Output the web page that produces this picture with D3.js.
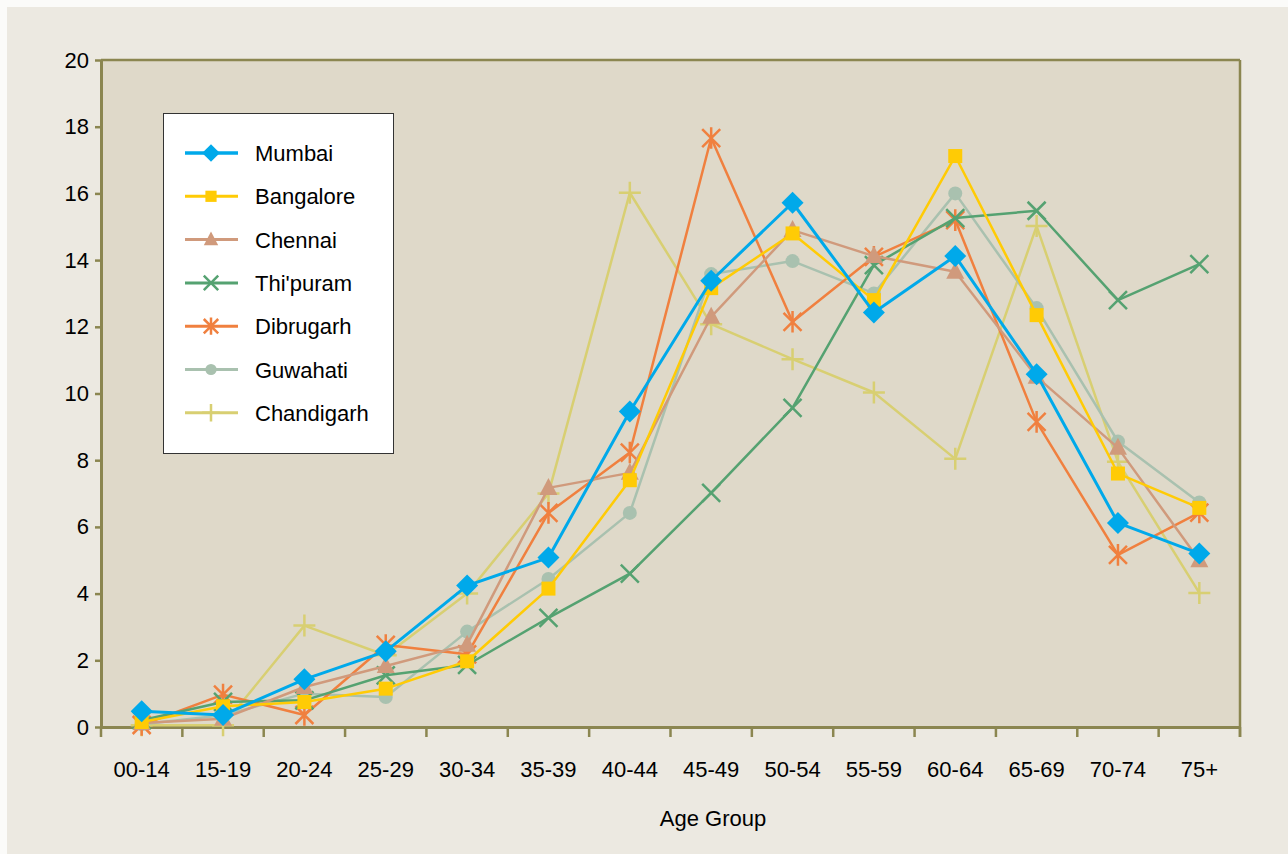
<!DOCTYPE html>
<html><head><meta charset="utf-8">
<script src="https://cdn.jsdelivr.net/npm/d3@7"></script>
<style>html,body{margin:0;padding:0;background:#fbfbf9;}svg{display:block;}</style>
</head><body>
<script>
const categories = ["00-14","15-19","20-24","25-29","30-34","35-39","40-44","45-49","50-54","55-59","60-64","65-69","70-74","75+"];
const yTicks = [0,2,4,6,8,10,12,14,16,18,20];
const seriesNames = ["Mumbai","Bangalore","Chennai","Thi'puram","Dibrugarh","Guwahati","Chandigarh"];
const mumbai     = [0.47,0.36,1.43,2.27,4.24,5.08,9.46,13.38,15.72,12.43,14.12,10.58,6.12,5.2];
const bangalore  = [0.15,0.62,0.75,1.15,1.97,4.15,7.4,13.16,14.8,12.8,17.12,12.35,7.6,6.57];
const chennai    = [0.12,0.25,1.2,1.83,2.47,7.17,7.62,12.3,14.9,14.12,13.65,10.5,8.37,5.0];
const thipuram   = [0.2,0.75,0.8,1.55,1.86,3.27,4.6,7.02,9.57,13.85,15.26,15.48,12.8,13.88];
const dibrugarh  = [0.06,0.97,0.36,2.46,2.18,6.42,8.23,17.66,12.15,14.1,15.2,9.15,5.16,6.43];
const guwahati   = [0.08,0.35,1.0,0.9,2.86,4.44,6.42,13.58,13.97,13.0,16.0,12.56,8.56,6.73];
const chandigarh = [0.05,0.05,3.04,2.15,4.0,7.0,16.02,12.08,11.03,10.03,8.04,15.02,7.95,4.02];
const seriesValues = [mumbai,bangalore,chennai,thipuram,dibrugarh,guwahati,chandigarh];
const colors  = ["#00a9ea","#ffcb05","#d09a7c","#55a271","#f0803f","#a9c1af","#d8cf72"];
const markers = ["diamond","square","triangle","x","asterisk","circle","plus"];
const widths  = [3,2.5,2.5,2.5,2.5,2.5,2.5];

const W=1288,H=854;
const M={left:101,top:60,right:1240,bottom:727};
const FONT="'Liberation Sans', Arial, sans-serif";
const svg=d3.select("body").append("svg").attr("width",W).attr("height",H);
svg.append("rect").attr("x",7).attr("y",7).attr("width",W-7).attr("height",H-7).attr("fill","#ece9e1");
svg.append("rect").attr("x",M.left).attr("y",M.top).attr("width",M.right-M.left).attr("height",M.bottom-M.top).attr("fill","#dfd9c9");

const x=d3.scaleBand().domain(categories).range([M.left,M.right]).padding(0);
const y=d3.scaleLinear().domain([0,20]).range([M.bottom,M.top]);
const axisCol="#8b8650";

// right border
svg.append("line").attr("x1",M.right).attr("x2",M.right).attr("y1",M.top).attr("y2",M.bottom+10).attr("stroke",axisCol).attr("stroke-width",2.5);
svg.append("line").attr("x1",M.left).attr("x2",M.right).attr("y1",M.top).attr("y2",M.top).attr("stroke",axisCol).attr("stroke-width",2.5);

// y axis
const ya=svg.append("g").attr("transform",`translate(${M.left},0)`).call(d3.axisLeft(y).tickValues(yTicks).tickSize(6).tickPadding(6).tickSizeOuter(0));
ya.select(".domain").attr("stroke",axisCol).attr("stroke-width",3);
ya.selectAll(".tick line").attr("stroke",axisCol).attr("stroke-width",2.5);
ya.selectAll("text").attr("font-family",FONT).attr("font-size",22).attr("fill","#000");

// x axis
const xa=svg.append("g").attr("transform",`translate(0,${M.bottom})`).call(d3.axisBottom(x).tickSize(0).tickPadding(34));
xa.select(".domain").attr("stroke",axisCol).attr("stroke-width",3);
xa.selectAll("text").attr("font-family",FONT).attr("font-size",22).attr("fill","#000");
const bounds=categories.map(c=>x(c)).concat([M.right]);
svg.append("g").selectAll("line").data(bounds).join("line")
 .attr("x1",d=>d).attr("x2",d=>d).attr("y1",M.bottom).attr("y2",M.bottom+10)
 .attr("stroke",axisCol).attr("stroke-width",2.5);

svg.append("text").attr("x",713).attr("y",826).attr("text-anchor","middle")
 .attr("font-family",FONT).attr("font-size",22).text("Age Group");

function drawMarker(g,type,cx,cy,color,scale){
  const s=scale||1;
  if(type==="diamond"){
    g.append("path").attr("d",`M${cx},${cy-11*s}L${cx+11*s},${cy}L${cx},${cy+11*s}L${cx-11*s},${cy}Z`).attr("fill",color);
  } else if(type==="square"){
    g.append("rect").attr("x",cx-7*s).attr("y",cy-7*s).attr("width",14*s).attr("height",14*s).attr("fill",color);
  } else if(type==="triangle"){
    g.append("path").attr("d",`M${cx},${cy-10*s}L${cx+9*s},${cy+7*s}L${cx-9*s},${cy+7*s}Z`).attr("fill",color);
  } else if(type==="circle"){
    g.append("circle").attr("cx",cx).attr("cy",cy).attr("r",7*s).attr("fill",color);
  } else if(type==="x"){
    const r=9*s;
    g.append("path").attr("d",`M${cx-r},${cy-r}L${cx+r},${cy+r}M${cx-r},${cy+r}L${cx+r},${cy-r}`).attr("stroke",color).attr("stroke-width",2.5).attr("fill","none");
  } else if(type==="asterisk"){
    const r=9*s;
    g.append("path").attr("d",`M${cx-r},${cy-r}L${cx+r},${cy+r}M${cx-r},${cy+r}L${cx+r},${cy-r}M${cx},${cy-r*1.2}L${cx},${cy+r*1.2}`).attr("stroke",color).attr("stroke-width",2.5).attr("fill","none");
  } else if(type==="plus"){
    const r=11*s;
    g.append("path").attr("d",`M${cx-r},${cy}L${cx+r},${cy}M${cx},${cy-r}L${cx},${cy+r}`).attr("stroke",color).attr("stroke-width",2.5).attr("fill","none");
  }
}

const line=d3.line().x((d,i)=>x(categories[i])+x.bandwidth()/2).y(d=>y(d));
for(let k=seriesNames.length-1;k>=0;k--){
  const g=svg.append("g");
  g.append("path").datum(seriesValues[k]).attr("d",line).attr("fill","none")
   .attr("stroke",colors[k]).attr("stroke-width",widths[k]).attr("stroke-linejoin","round");
  seriesValues[k].forEach((v,i)=>drawMarker(g,markers[k],x(categories[i])+x.bandwidth()/2,y(v),colors[k]));
}

// legend
const lg=svg.append("g");
lg.append("rect").attr("x",163.5).attr("y",113.5).attr("width",230).attr("height",340).attr("fill","#fff").attr("stroke","#333").attr("stroke-width",1);
seriesNames.forEach((n,k)=>{
  const ly=153+k*43.3;
  lg.append("line").attr("x1",185).attr("x2",238).attr("y1",ly).attr("y2",ly).attr("stroke",colors[k]).attr("stroke-width",widths[k]+0.5);
  drawMarker(lg,markers[k],211,ly,colors[k],0.8);
  lg.append("text").attr("x",255).attr("y",ly+8).attr("font-family",FONT).attr("font-size",22).text(n);
});
</script>
</body></html>
